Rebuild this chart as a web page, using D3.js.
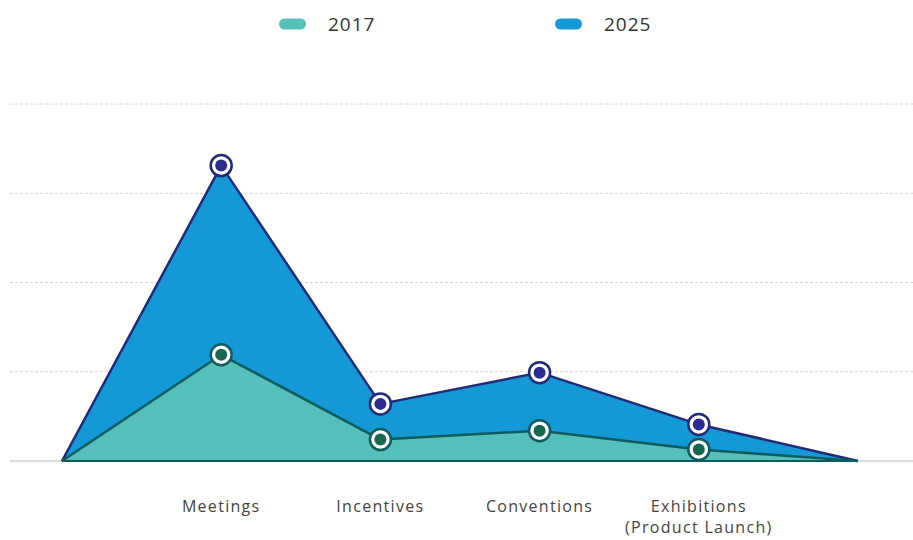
<!DOCTYPE html>
<html>
<head>
<meta charset="utf-8">
<script src="https://cdn.jsdelivr.net/npm/d3@7"></script>
<style>
  body { margin: 0; background: #fff; }
  svg { font-family: "Open Sans", sans-serif; }
</style>
</head>
<body>
<svg id="chart" width="913" height="540"></svg>
<script>
// categories (first and last are the unlabelled zero points)
const categories = ["", "Meetings", "Incentives", "Conventions", "Exhibitions\n(Product Launch)", ""];
const values2017 = [0, 1.19, 0.24, 0.34, 0.13, 0];
const values2025 = [0, 3.31, 0.64, 0.99, 0.41, 0];
const yTicks = [0, 1, 2, 3, 4];

const series = [
    {name: "2025", values: values2025, fill: "#1598d6", stroke: "#1f2a78", dot: "#2e2a8e"},
    {name: "2017", values: values2017, fill: "#55bfba", stroke: "#0f5c5c", dot: "#17664f"}
];

const svg = d3.select("#chart");

const x = d3.scaleLinear().domain([0, categories.length - 1]).range([62, 858]);
const y = d3.scaleLinear().domain([0, 4]).range([461, 104]);

// gridlines
svg.append("g")
    .selectAll("line")
    .data(yTicks)
    .enter().append("line")
    .attr("x1", 10).attr("x2", 913)
    .attr("y1", d => y(d)).attr("y2", d => y(d))
    .attr("stroke", d => d === 0 ? "#cfcfcf" : "#d6d6d6")
    .attr("stroke-width", d => d === 0 ? 1.5 : 1)
    .attr("stroke-dasharray", d => d === 0 ? null : "3,2");

const area = d3.area()
    .x((d, i) => x(i))
    .y0(y(0))
    .y1(d => y(d));

const line = d3.line()
    .x((d, i) => x(i))
    .y(d => y(d));

series.forEach(s => {
    svg.append("path")
        .attr("d", area(s.values))
        .attr("fill", s.fill);
    svg.append("path")
        .attr("d", line(s.values))
        .attr("fill", "none")
        .attr("stroke", s.stroke)
        .attr("stroke-width", 2.5)
        .attr("stroke-linejoin", "round");
});

// baseline over the areas
svg.append("line")
    .attr("x1", x(0)).attr("x2", x(categories.length - 1))
    .attr("y1", y(0)).attr("y2", y(0))
    .attr("stroke", "#0f5c5c")
    .attr("stroke-width", 2);

// markers
series.forEach(s => {
    const pts = s.values.map((v, i) => ({v, i})).filter(d => d.i > 0 && d.i < categories.length - 1);
    const g = svg.append("g");
    g.selectAll("circle.ring")
        .data(pts)
        .enter().append("circle")
        .attr("class", "ring")
        .attr("cx", d => x(d.i)).attr("cy", d => y(d.v))
        .attr("r", 10.5)
        .attr("fill", "#fff")
        .attr("stroke", s.stroke)
        .attr("stroke-width", 2.5);
    g.selectAll("circle.dot")
        .data(pts)
        .enter().append("circle")
        .attr("class", "dot")
        .attr("cx", d => x(d.i)).attr("cy", d => y(d.v))
        .attr("r", 6)
        .attr("fill", s.dot);
});

// category labels
const labels = svg.append("g")
    .selectAll("text")
    .data(categories.map((c, i) => ({c, i})).filter(d => d.c))
    .enter().append("text")
    .attr("x", d => x(d.i))
    .attr("y", 512)
    .attr("text-anchor", "middle")
    .attr("font-size", 16)
    .attr("letter-spacing", 1.3)
    .attr("fill", "#444");
labels.selectAll("tspan")
    .data(d => d.c.split("\n").map(t => ({t, x: x(d.i)})))
    .enter().append("tspan")
    .attr("x", d => d.x)
    .attr("dy", (d, i) => i === 0 ? 0 : 21)
    .text(d => d.t);

// legend
const legendItems = [
    {name: "2017", fill: "#55bfba", x: 279},
    {name: "2025", fill: "#1598d6", x: 555}
];
const lg = svg.append("g")
    .selectAll("g")
    .data(legendItems)
    .enter().append("g")
    .attr("transform", d => `translate(${d.x},24)`);
lg.append("rect")
    .attr("x", 0).attr("y", -5.5)
    .attr("width", 27).attr("height", 11)
    .attr("rx", 5.5)
    .attr("fill", d => d.fill);
lg.append("text")
    .attr("x", 49).attr("y", 7)
    .attr("font-size", 19)
    .attr("letter-spacing", 1)
    .attr("fill", "#333")
    .text(d => d.name);
</script>
</body>
</html>
